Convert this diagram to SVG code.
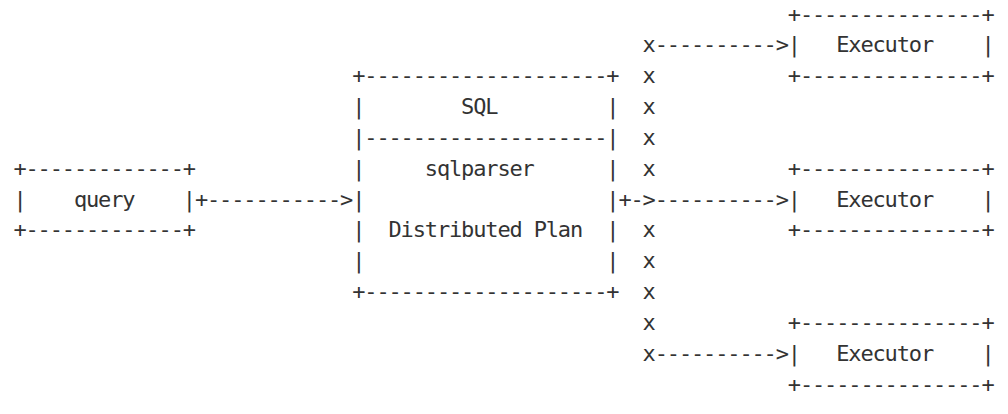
<svg xmlns="http://www.w3.org/2000/svg" width="1008" height="414" viewBox="0 0 1008 414">
<style>
text{font-family:"DejaVu Sans Mono","Liberation Mono",monospace;font-size:22px;letter-spacing:-1.146px;fill:#333;white-space:pre}
</style>
<rect width="1008" height="414" fill="#fff"/>
<g id="query" xml:space="preserve">
<text x="13.4" y="175.7">+-------------+</text>
<text x="13.4" y="206.5">|    query    |</text>
<text x="13.4" y="237.3">+-------------+</text>
</g>
<g id="sql" xml:space="preserve">
<text x="352.2" y="83.2">+--------------------+</text>
<text x="352.2" y="114">|        SQL         |</text>
<text x="352.2" y="144.8">|--------------------|</text>
<text x="352.2" y="175.7">|     sqlparser      |</text>
<text x="352.2" y="206.5">|                    |</text>
<text x="352.2" y="237.3">|  Distributed Plan  |</text>
<text x="352.2" y="268.1">|                    |</text>
<text x="352.2" y="299">+--------------------+</text>
</g>
<g id="executor1" xml:space="preserve">
<text x="787.8" y="21.5">+---------------+</text>
<text x="787.8" y="52.3">|   Executor    |</text>
<text x="787.8" y="83.2">+---------------+</text>
</g>
<g id="executor2" xml:space="preserve">
<text x="787.8" y="175.7">+---------------+</text>
<text x="787.8" y="206.5">|   Executor    |</text>
<text x="787.8" y="237.3">+---------------+</text>
</g>
<g id="executor3" xml:space="preserve">
<text x="787.8" y="329.8">+---------------+</text>
<text x="787.8" y="360.6">|   Executor    |</text>
<text x="787.8" y="391.5">+---------------+</text>
</g>
<g id="connectors" xml:space="preserve">
<text x="194.9" y="206.5">+-----------&gt;</text>
<text x="618.4" y="206.5">+-&gt;----------&gt;</text>
<text x="642.6" y="52.3">x----------&gt;</text>
<text x="642.6" y="83.2">x</text>
<text x="642.6" y="114">x</text>
<text x="642.6" y="144.8">x</text>
<text x="642.6" y="175.7">x</text>
<text x="642.6" y="237.3">x</text>
<text x="642.6" y="268.1">x</text>
<text x="642.6" y="299">x</text>
<text x="642.6" y="329.8">x</text>
<text x="642.6" y="360.6">x----------&gt;</text>
</g>
</svg>
